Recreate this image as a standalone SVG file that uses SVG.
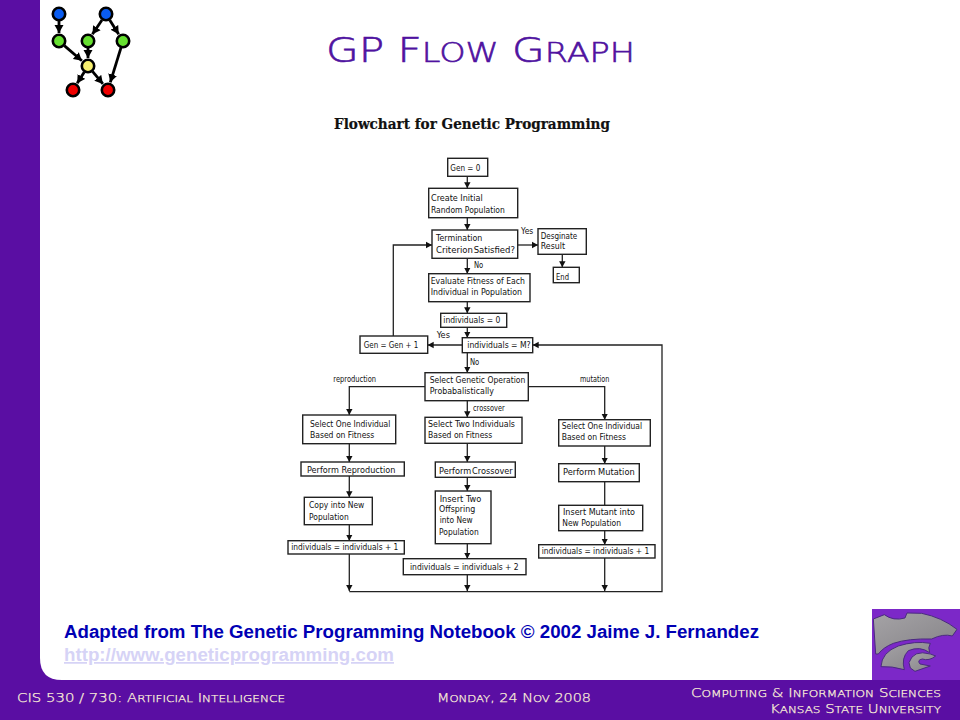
<svg xmlns="http://www.w3.org/2000/svg" width="960" height="720" viewBox="0 0 960 720">
<style>
.box{fill:#fff;stroke:#222;stroke-width:1.4}
.t{font-family:"DejaVu Sans","Liberation Sans",sans-serif;font-size:9.2px;fill:#111}
.c{fill:none;stroke:#222;stroke-width:1.3}
.g{fill:none;stroke:#000;stroke-width:2.8}
.n{stroke:#000;stroke-width:2.6}
.foot{font-family:"DejaVu Sans","Liberation Sans",sans-serif;font-weight:200;font-size:11.6px;fill:#fbeed8;stroke:#fbeed8;stroke-width:.25}
.foot tspan{font-size:9.4px;text-transform:uppercase}
.title{font-family:"DejaVu Sans","Liberation Sans",sans-serif;font-weight:200;font-size:34px;fill:#4f12a0;stroke:#4f12a0;stroke-width:.6}
.title tspan{font-size:27px;text-transform:uppercase}
.cap{font-family:"Liberation Sans",Arial,sans-serif;font-weight:bold;font-size:17.5px}
.cat{fill:url(#steel);stroke:#4a2a80;stroke-width:3}
</style>
<defs>
<marker id="a" markerUnits="userSpaceOnUse" markerWidth="7" markerHeight="8" refX="6" refY="4" orient="auto"><path d="M0,.8L6,4L0,7.2Z" fill="#111"/></marker>
<marker id="b" markerUnits="userSpaceOnUse" markerWidth="9" markerHeight="10" refX="8" refY="5" orient="auto"><path d="M0,.5L8,5L0,9.5Z" fill="#000"/></marker>
<linearGradient id="steel" x1="0" y1="0" x2="1" y2="1"><stop offset="0" stop-color="#a5a3a6"/><stop offset="1" stop-color="#848286"/></linearGradient>
</defs>
<rect width="960" height="720" fill="#5a0ea3"/>
<path d="M40,0H960V680H62Q40,680 40,658Z" fill="#fff"/>

<g id="icon-edges">
<path class="g" marker-end="url(#b)" d="M59,20V33"/>
<path class="g" marker-end="url(#b)" d="M102,20L92.4,34.3"/>
<path class="g" marker-end="url(#b)" d="M109.7,20L118.7,34.2"/>
<path class="g" marker-end="url(#b)" d="M64.3,45.6L81.9,60.8"/>
<path class="g" marker-end="url(#b)" d="M88,48V58"/>
<path class="g" marker-end="url(#b)" d="M121,47.7L110.3,82.3"/>
<path class="g" marker-end="url(#b)" d="M84.3,71.9L77.2,83.2"/>
<path class="g" marker-end="url(#b)" d="M92.5,71.4L102.9,83.9"/>
</g>
<g id="icon-nodes">
<circle class="n" cx="59" cy="14" r="6.2" fill="#0a5cf0"/>
<circle class="n" cx="106" cy="14" r="6.2" fill="#0a5cf0"/>
<circle class="n" cx="59" cy="41" r="6.2" fill="#66e030"/>
<circle class="n" cx="88" cy="41" r="6.2" fill="#66e030"/>
<circle class="n" cx="123" cy="41" r="6.2" fill="#66e030"/>
<circle class="n" cx="88" cy="66" r="6.2" fill="#f8f070"/>
<circle class="n" cx="73" cy="90" r="6.2" fill="#f00000"/>
<circle class="n" cx="108" cy="90" r="6.2" fill="#f00000"/>
</g>

<text class="title" x="326" y="62" textLength="309" lengthAdjust="spacingAndGlyphs">GP F<tspan>low</tspan> G<tspan>raph</tspan></text>
<text x="334" y="128.5" textLength="276" lengthAdjust="spacingAndGlyphs" font-family="'DejaVu Serif','Liberation Serif',serif" font-weight="bold" font-size="14" fill="#111" stroke="#111" stroke-width=".2">Flowchart for Genetic Programming</text>

<g id="connectors">
<path class="c" marker-end="url(#a)" d="M467.3,176.3V188.3"/>
<path class="c" marker-end="url(#a)" d="M467.3,217.7V230"/>
<path class="c" marker-end="url(#a)" d="M467.3,258.3V273.7"/>
<path class="c" marker-end="url(#a)" d="M467.3,301.7V313.3"/>
<path class="c" marker-end="url(#a)" d="M467.3,327.3V337.7"/>
<path class="c" marker-end="url(#a)" d="M467.3,352.7V372.7"/>
<path class="c" marker-end="url(#a)" d="M467.3,400.7V417.3"/>
<path class="c" marker-end="url(#a)" d="M467.3,443.3V462"/>
<path class="c" marker-end="url(#a)" d="M467.3,477.3V491"/>
<path class="c" marker-end="url(#a)" d="M467.3,543.7V558.7"/>
<path class="c" marker-end="url(#a)" d="M467.3,574.7V591"/>
<path class="c" marker-end="url(#a)" d="M517.7,245H538"/>
<path class="c" marker-end="url(#a)" d="M562.3,254.3V267.3"/>
<path class="c" marker-end="url(#a)" d="M393.3,336V245H432"/>
<path class="c" marker-end="url(#a)" d="M462.3,345H427.7"/>
<path class="c" marker-end="url(#a)" d="M349.3,591.7H662V345H532.7"/>
<path class="c" marker-end="url(#a)" d="M425,386.7H349.3V415"/>
<path class="c" marker-end="url(#a)" d="M528.3,386.7H604.7V419.7"/>
<path class="c" marker-end="url(#a)" d="M349.3,443.7V462"/>
<path class="c" marker-end="url(#a)" d="M349.3,476V497.3"/>
<path class="c" marker-end="url(#a)" d="M349.3,524.7V540.7"/>
<path class="c" marker-end="url(#a)" d="M349.3,554V591"/>
<path class="c" marker-end="url(#a)" d="M604.7,446V463.7"/>
<path class="c" d="M604.7,481.7V505.3"/>
<path class="c" marker-end="url(#a)" d="M604.7,530.7V544.7"/>
<path class="c" marker-end="url(#a)" d="M604.7,558V591"/>
</g>

<g id="n-gen0"><rect class="box" x="447.7" y="158.3" width="40" height="18"/><text class="t" x="450.3" y="171" textLength="30" lengthAdjust="spacingAndGlyphs">Gen = 0</text></g>
<g id="n-create"><rect class="box" x="428.7" y="188.3" width="89" height="29.4"/><text class="t" x="431" y="201" textLength="51.7" lengthAdjust="spacingAndGlyphs">Create Initial</text><text class="t" x="431" y="212.7" textLength="73.7" lengthAdjust="spacingAndGlyphs">Random Population</text></g>
<g id="n-term"><rect class="box" x="432" y="230" width="85.7" height="28.3"/><text class="t" x="436" y="241" textLength="46.3" lengthAdjust="spacingAndGlyphs">Termination</text><text class="t" x="436" y="252.5" textLength="79" lengthAdjust="spacingAndGlyphs" word-spacing="-2">Criterion Satisfied?</text></g>
<g id="n-desg"><rect class="box" x="538" y="228.7" width="48.3" height="25.6"/><text class="t" x="540.7" y="239" textLength="36.6" lengthAdjust="spacingAndGlyphs">Desginate</text><text class="t" x="540.7" y="249" textLength="24.3" lengthAdjust="spacingAndGlyphs">Result</text></g>
<g id="n-end"><rect class="box" x="553.3" y="267.3" width="26" height="15.4"/><text class="t" x="556" y="280" textLength="13" lengthAdjust="spacingAndGlyphs">End</text></g>
<g id="n-eval"><rect class="box" x="428.7" y="273.7" width="101.3" height="28"/><text class="t" x="430.7" y="284" textLength="94.3" lengthAdjust="spacingAndGlyphs">Evaluate Fitness of Each</text><text class="t" x="430.7" y="295.3" textLength="91.3" lengthAdjust="spacingAndGlyphs">Individual in Population</text></g>
<g id="n-ind0"><rect class="box" x="440.7" y="313.3" width="66" height="14"/><text class="t" x="443.3" y="323.3" textLength="57" lengthAdjust="spacingAndGlyphs">individuals = 0</text></g>
<g id="n-indm"><rect class="box" x="462.3" y="337.7" width="70.4" height="15"/><text class="t" x="467.3" y="348" textLength="63.4" lengthAdjust="spacingAndGlyphs">individuals = M?</text></g>
<g id="n-gen1"><rect class="box" x="360" y="336" width="67.7" height="17.3"/><text class="t" x="363.7" y="348" textLength="54.6" lengthAdjust="spacingAndGlyphs">Gen = Gen + 1</text></g>
<g id="n-select"><rect class="box" x="425" y="372.7" width="103.3" height="28"/><text class="t" x="429.7" y="382.7" textLength="95.6" lengthAdjust="spacingAndGlyphs">Select Genetic Operation</text><text class="t" x="429.7" y="394" textLength="64.3" lengthAdjust="spacingAndGlyphs">Probabalistically</text></g>
<g id="n-sel-l"><rect class="box" x="302.7" y="415" width="93" height="28.7"/><text class="t" x="310" y="426.7" textLength="80.3" lengthAdjust="spacingAndGlyphs">Select One Individual</text><text class="t" x="310" y="438" textLength="64.3" lengthAdjust="spacingAndGlyphs">Based on Fitness</text></g>
<g id="n-sel-c"><rect class="box" x="425" y="417.3" width="97" height="26"/><text class="t" x="428" y="426.7" textLength="87" lengthAdjust="spacingAndGlyphs">Select Two Individuals</text><text class="t" x="428" y="438" textLength="64.3" lengthAdjust="spacingAndGlyphs">Based on Fitness</text></g>
<g id="n-sel-r"><rect class="box" x="558.7" y="419.7" width="91.6" height="26.3"/><text class="t" x="561.7" y="428.7" textLength="80.3" lengthAdjust="spacingAndGlyphs">Select One Individual</text><text class="t" x="561.7" y="440" textLength="64.3" lengthAdjust="spacingAndGlyphs">Based on Fitness</text></g>
<g id="n-perf-r"><rect class="box" x="301" y="462" width="103.3" height="14"/><text class="t" x="307" y="472.7" textLength="88.3" lengthAdjust="spacingAndGlyphs">Perform Reproduction</text></g>
<g id="n-perf-c"><rect class="box" x="435.3" y="462" width="80" height="15.3"/><text class="t" x="439" y="474" textLength="73.7" lengthAdjust="spacingAndGlyphs" word-spacing="-2">Perform Crossover</text></g>
<g id="n-perf-m"><rect class="box" x="558.7" y="463.7" width="80.6" height="18"/><text class="t" x="563" y="474.7" textLength="71.7" lengthAdjust="spacingAndGlyphs">Perform Mutation</text></g>
<g id="n-copy"><rect class="box" x="304.3" y="497.3" width="68" height="27.4"/><text class="t" x="309" y="508.3" textLength="55.3" lengthAdjust="spacingAndGlyphs">Copy into New</text><text class="t" x="309" y="519.7" textLength="39.7" lengthAdjust="spacingAndGlyphs">Population</text></g>
<g id="n-ins-c"><rect class="box" x="435.3" y="491" width="55.7" height="52.7"/><text class="t" x="439.7" y="501.7" textLength="41.6" lengthAdjust="spacingAndGlyphs">Insert Two</text><text class="t" x="439" y="512.3" textLength="36.3" lengthAdjust="spacingAndGlyphs">Offspring</text><text class="t" x="439.7" y="523.3" textLength="33" lengthAdjust="spacingAndGlyphs">into New</text><text class="t" x="439" y="534.7" textLength="39.7" lengthAdjust="spacingAndGlyphs">Population</text></g>
<g id="n-ins-m"><rect class="box" x="558.7" y="505.3" width="84" height="25.4"/><text class="t" x="563" y="515" textLength="72" lengthAdjust="spacingAndGlyphs">Insert Mutant into</text><text class="t" x="562.3" y="526.3" textLength="58.7" lengthAdjust="spacingAndGlyphs">New Population</text></g>
<g id="n-inc-l"><rect class="box" x="288" y="540.7" width="116.3" height="13.3"/><text class="t" x="291.3" y="549.8" textLength="107" lengthAdjust="spacingAndGlyphs">individuals = individuals + 1</text></g>
<g id="n-inc-c"><rect class="box" x="403.3" y="558.7" width="122.7" height="16"/><text class="t" x="410" y="569.7" textLength="108.7" lengthAdjust="spacingAndGlyphs">individuals = individuals + 2</text></g>
<g id="n-inc-r"><rect class="box" x="538.7" y="544.7" width="116.3" height="13.3"/><text class="t" x="541.7" y="553.8" textLength="107.6" lengthAdjust="spacingAndGlyphs">individuals = individuals + 1</text></g>

<g id="edge-labels">
<text class="t" x="521" y="233.7" textLength="12.3" lengthAdjust="spacingAndGlyphs">Yes</text>
<text class="t" x="474" y="267.7" textLength="9.3" lengthAdjust="spacingAndGlyphs">No</text>
<text class="t" x="436.7" y="338.3" textLength="13.3" lengthAdjust="spacingAndGlyphs">Yes</text>
<text class="t" x="470" y="364.7" textLength="9.3" lengthAdjust="spacingAndGlyphs">No</text>
<text class="t" x="333.3" y="382.3" textLength="42.7" lengthAdjust="spacingAndGlyphs" font-size="8">reproduction</text>
<text class="t" x="580" y="382.3" textLength="29.3" lengthAdjust="spacingAndGlyphs">mutation</text>
<text class="t" x="473" y="411.3" textLength="31.7" lengthAdjust="spacingAndGlyphs">crossover</text>
</g>

<text class="cap" x="64" y="638" textLength="695" lengthAdjust="spacingAndGlyphs" fill="#0000b4">Adapted from The Genetic Programming Notebook © 2002 Jaime J. Fernandez</text>
<text class="cap" x="64" y="661" textLength="330" lengthAdjust="spacingAndGlyphs" fill="#d6d3f6" text-decoration="underline">http://www.geneticprogramming.com</text>

<g id="logo" transform="translate(865,604) scale(.33333)">
<rect x="21" y="15" width="264" height="213" fill="#7c28c8"/>
<path class="cat" d="M25,45L58,32Q85,52 120,42L126,27L170,28Q230,40 276,76L262,96Q235,88 200,105Q130,103 85,118Q55,130 40,150L32,150Z"/>
<path class="cat" d="M48,188Q50,145 100,126Q150,110 196,118Q188,130 194,146Q165,125 130,140Q108,162 118,197Q80,186 48,188Z"/>
<path class="cat" d="M132,176Q145,136 196,150L212,156Q192,172 172,165Q155,168 165,180L196,186L150,202L136,192Z"/>
</g>

<text class="foot" x="17" y="702" textLength="268" lengthAdjust="spacingAndGlyphs">CIS 530 / 730: A<tspan>rtificial</tspan> I<tspan>ntelligence</tspan></text>
<text class="foot" x="437" y="702" textLength="154" lengthAdjust="spacingAndGlyphs">M<tspan>onday</tspan>, 24 N<tspan>ov</tspan> 2008</text>
<text class="foot" x="691" y="697" textLength="250" lengthAdjust="spacingAndGlyphs">C<tspan>omputing</tspan> &amp; I<tspan>nformation</tspan> S<tspan>ciences</tspan></text>
<text class="foot" x="770" y="713" textLength="171" lengthAdjust="spacingAndGlyphs">K<tspan>ansas</tspan> S<tspan>tate</tspan> U<tspan>niversity</tspan></text>
</svg>
